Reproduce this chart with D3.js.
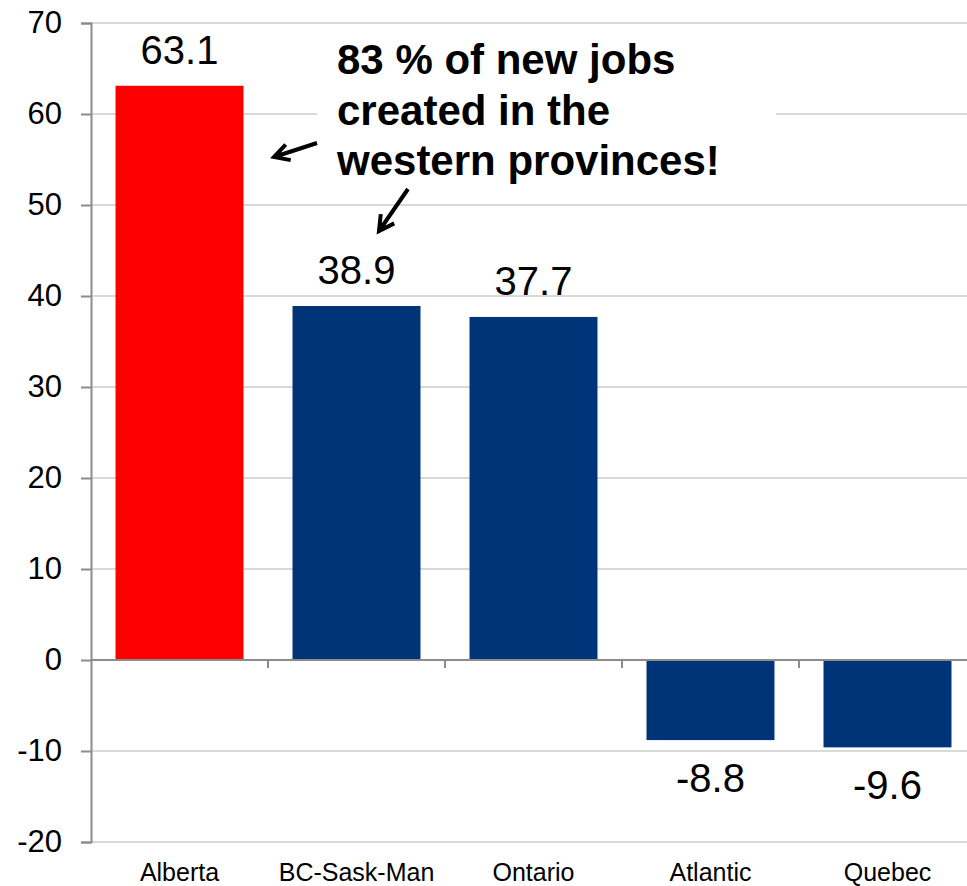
<!DOCTYPE html>
<html>
<head>
<meta charset="utf-8">
<script src="https://cdn.jsdelivr.net/npm/d3@7"></script>
<style>
  body { margin: 0; background: #fff; }
  svg { display: block; font-family: "Liberation Sans", Arial, sans-serif; }
</style>
</head>
<body>
<div id="chart"></div>
<script>
// data
const regions = ["Alberta", "BC-Sask-Man", "Ontario", "Atlantic", "Quebec"];
const jobs = [63.1, 38.9, 37.7, -8.8, -9.6];
const barColors = ["#ff0000", "#003478", "#003478", "#003478", "#003478"];
const yTicks = [-20, -10, 0, 10, 20, 30, 40, 50, 60, 70];
const noteLines = ["83 % of new jobs", "created in the", "western provinces!"];

const W = 967, H = 886;
const margin = {top: 23, right: -9, bottom: 44, left: 91};

const svg = d3.select("#chart")
    .append("svg")
    .attr("width", W)
    .attr("height", H);

const x = d3.scaleBand()
    .domain(regions)
    .range([margin.left, W - margin.right])
    .paddingInner(0.277)
    .paddingOuter(0.1385);

const y = d3.scaleLinear()
    .domain([-20, 70])
    .range([H - margin.bottom, margin.top]);

// gridlines
svg.append("g")
    .selectAll("line")
    .data(yTicks.filter(d => d !== 0))
    .join("line")
    .attr("x1", margin.left)
    .attr("x2", W)
    .attr("y1", d => y(d))
    .attr("y2", d => y(d))
    .attr("stroke", "#d9d9d9")
    .attr("stroke-width", 2);

// white box behind annotation
svg.append("rect")
    .attr("x", 317)
    .attr("y", y(70) + 1)
    .attr("width", 459)
    .attr("height", y(50) - y(70) - 5)
    .attr("fill", "#fff");

// bars
const rows = regions.map((r, i) => ({region: r, value: jobs[i], color: barColors[i]}));

svg.append("g")
    .selectAll("rect")
    .data(rows)
    .join("rect")
    .attr("x", d => x(d.region))
    .attr("y", d => y(Math.max(0, d.value)))
    .attr("width", x.bandwidth())
    .attr("height", d => Math.abs(y(d.value) - y(0)))
    .attr("fill", d => d.color);

// value labels
svg.append("g")
    .selectAll("text")
    .data(rows)
    .join("text")
    .attr("x", d => x(d.region) + x.bandwidth() / 2)
    .attr("y", d => d.value >= 0 ? y(d.value) - 22 : y(d.value) + 52)
    .attr("text-anchor", "middle")
    .style("font-size", "40px")
    .attr("fill", "#000")
    .text(d => d.value.toFixed(1));

// y axis
const yAxis = svg.append("g")
    .attr("transform", `translate(${margin.left},0)`)
    .call(d3.axisLeft(y).tickValues(yTicks).tickSize(10).tickPadding(19).tickFormat(d => String(d)));
yAxis.select(".domain").attr("stroke", "#8c8c8c").attr("stroke-width", 2);
yAxis.selectAll(".tick line").attr("stroke", "#8c8c8c").attr("stroke-width", 2);
yAxis.selectAll(".tick text")
    .style("font-size", "31px")
    .style("font-family", "'Liberation Sans', Arial, sans-serif")
    .attr("fill", "#000");

// zero line with category ticks
const x0 = svg.append("g")
    .attr("transform", `translate(0,${y(0)})`);
x0.append("line")
    .attr("x1", margin.left)
    .attr("x2", W)
    .attr("stroke", "#8c8c8c")
    .attr("stroke-width", 2);
const step = x.step();
x0.selectAll(".xt")
    .data(regions.slice(1))
    .join("line")
    .attr("class", "xt")
    .attr("x1", d => x(d) - step * x.paddingInner() / 2)
    .attr("x2", d => x(d) - step * x.paddingInner() / 2)
    .attr("y1", 0)
    .attr("y2", 8)
    .attr("stroke", "#8c8c8c")
    .attr("stroke-width", 2);

// category labels at bottom
svg.append("g")
    .selectAll("text")
    .data(regions)
    .join("text")
    .attr("x", d => x(d) + x.bandwidth() / 2)
    .attr("y", 881)
    .attr("text-anchor", "middle")
    .style("font-size", "25px")
    .attr("fill", "#000")
    .text(d => d);

// annotation
svg.append("text")
    .attr("x", 337)
    .attr("y", 74)
    .style("font-size", "42px")
    .style("font-weight", "bold")
    .attr("fill", "#000")
    .selectAll("tspan")
    .data(noteLines)
    .join("tspan")
    .attr("x", 337)
    .attr("dy", (d, i) => i === 0 ? 0 : 50.5)
    .text(d => d);

// arrows
function arrow(x1, y1, x2, y2) {
    const ang = Math.atan2(y2 - y1, x2 - x1);
    const len = 17, spread = 0.5;
    svg.append("path")
        .attr("d", `M${x1},${y1}L${x2},${y2}` +
            `M${x2 - len * Math.cos(ang - spread)},${y2 - len * Math.sin(ang - spread)}` +
            `L${x2},${y2}` +
            `L${x2 - len * Math.cos(ang + spread)},${y2 - len * Math.sin(ang + spread)}`)
        .attr("fill", "none")
        .attr("stroke", "#000")
        .attr("stroke-width", 4)
        .attr("stroke-linejoin", "miter");
}
arrow(317, 143, 274, 157);
arrow(408, 189, 379, 231);
</script>
</body>
</html>
